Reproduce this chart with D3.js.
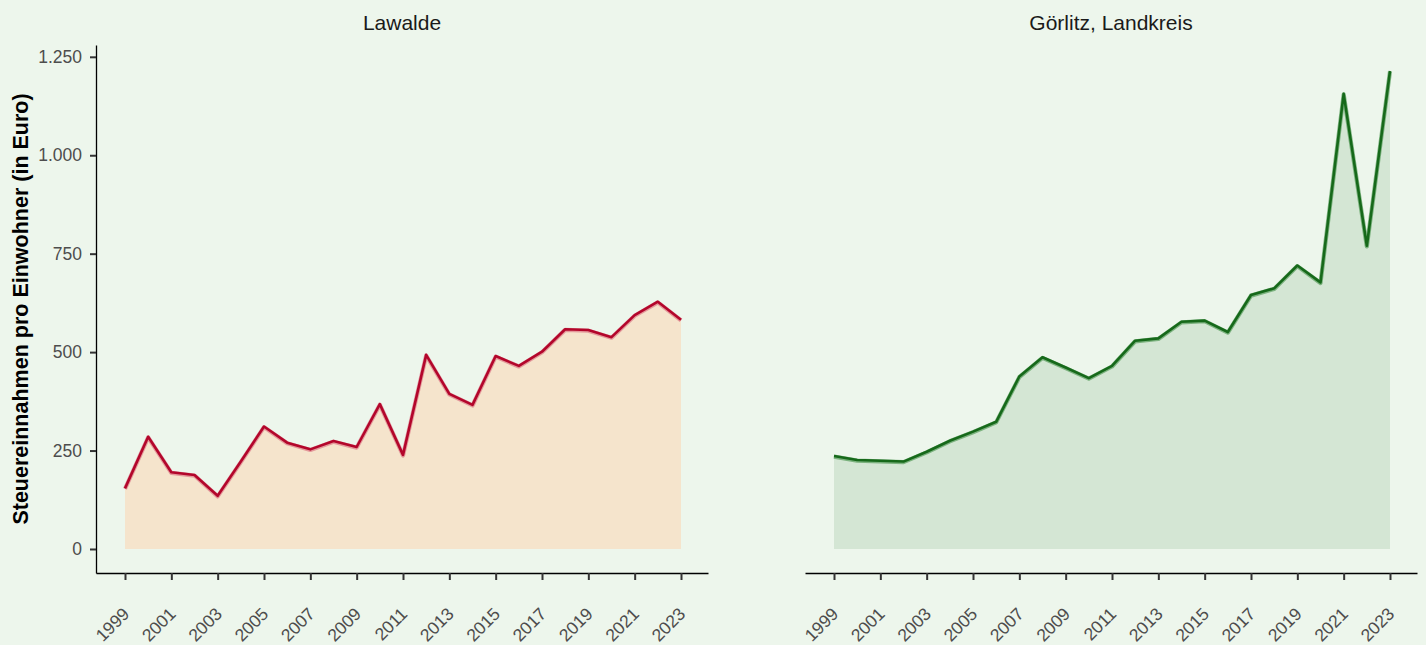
<!DOCTYPE html>
<html>
<head>
<meta charset="utf-8">
<script src="https://cdn.jsdelivr.net/npm/d3@7"></script>
<style>
  html, body { margin: 0; padding: 0; background: #edf6ec; }
  svg { display: block; font-family: "Liberation Sans", Arial, sans-serif; }
</style>
</head>
<body>
<svg id="chart"></svg>
<script>
const YEARS = d3.range(1999, 2024);
const TICK_YEARS = d3.range(1999, 2024, 2);
const Y_TICKS = [0, 250, 500, 750, 1000, 1250];

const LAWALDE = [154, 285, 195, 188, 135, 222, 311, 270, 253, 274, 259, 368, 239,
  493, 394, 366, 490, 465, 501, 558, 556, 538, 594, 628, 582];
const GOERLITZ = [236, 226, 224, 222, 247, 275, 298, 323, 438, 487, 461, 434, 465,
  529, 535, 577, 580, 551, 645, 662, 720, 677, 1156, 770, 1214];

const PANELS = [
  { title: "Lawalde", values: LAWALDE, fill: "#f5e4cc", halo: "#d9687a", stroke: "#b3062b", yAxis: true },
  { title: "Görlitz, Landkreis", values: GOERLITZ, fill: "#d4e6d4", halo: "#3f8f44", stroke: "#16691a", yAxis: false },
];

const WIDTH = 1426;
const HEIGHT = 645;
const PANEL_LEFT = [96, 805];
const PANEL_WIDTH = 612;
const PLOT_TOP = 45;
const PLOT_BOTTOM = 573;

const de = d3.formatLocale({ decimal: ",", thousands: ".", grouping: [3], currency: ["", " €"] });
const fmt = de.format(",d");

const svg = d3.select("#chart").attr("width", WIDTH).attr("height", HEIGHT);

svg.append("rect").attr("width", WIDTH).attr("height", HEIGHT).attr("fill", "#edf6ec");

const y = d3.scaleLinear().domain([-61, 1280]).range([PLOT_BOTTOM, PLOT_TOP]);

PANELS.forEach((p, i) => {
  const left = PANEL_LEFT[i];
  const x = d3.scaleLinear()
    .domain([1999 - 29 / 23.167, 2023 + 27 / 23.167])
    .range([left, left + PANEL_WIDTH]);

  const g = svg.append("g");
  const rows = YEARS.map((yr, k) => ({ year: yr, value: p.values[k] }));

  // area + line
  const area = d3.area().x((d) => x(d.year)).y0(y(0)).y1((d) => y(d.value));
  const line = d3.line().x((d) => x(d.year)).y((d) => y(d.value));

  g.append("path").datum(rows).attr("d", area).attr("fill", p.fill);
  g.append("path").datum(rows).attr("d", line)
    .attr("fill", "none").attr("stroke", p.halo).attr("stroke-width", 4.2)
    .attr("stroke-opacity", 0.6).attr("stroke-linejoin", "round")
    .attr("transform", "translate(0, 0.6)");
  g.append("path").datum(rows).attr("d", line)
    .attr("fill", "none").attr("stroke", p.stroke).attr("stroke-width", 2.6)
    .attr("stroke-linejoin", "round");

  // x axis
  const xAxis = d3.axisBottom(x).tickValues(TICK_YEARS).tickSize(7).tickSizeOuter(0).tickFormat(d3.format("d"));
  const xg = g.append("g").attr("transform", `translate(0, ${PLOT_BOTTOM})`).call(xAxis);
  xg.select(".domain").attr("stroke", "#000").attr("stroke-width", 1.3);
  xg.selectAll(".tick line").attr("stroke", "#333").attr("stroke-width", 2);
  xg.selectAll(".tick text")
    .attr("fill", "#4d4d4d").attr("font-size", 17.5)
    .attr("text-anchor", "end").attr("dy", 0).attr("y", 0)
    .attr("transform", "translate(5, 42) rotate(-45)");

  if (p.yAxis) {
    const yAxis = d3.axisLeft(y).tickValues(Y_TICKS).tickSize(6).tickPadding(8).tickSizeOuter(0).tickFormat(fmt);
    const yg = g.append("g").attr("transform", `translate(${left}, 0)`).call(yAxis);
    yg.select(".domain").attr("stroke", "#000").attr("stroke-width", 1.3);
    yg.selectAll(".tick line").attr("stroke", "#333").attr("stroke-width", 2);
    yg.selectAll(".tick text").attr("fill", "#4d4d4d").attr("font-size", 17.5);
  }

  // panel title
  svg.append("text")
    .attr("x", left + PANEL_WIDTH / 2).attr("y", 30)
    .attr("text-anchor", "middle").attr("font-size", 21).attr("fill", "#1a1a1a")
    .text(p.title);
});

svg.append("text")
  .attr("transform", `translate(28, ${(PLOT_TOP + PLOT_BOTTOM) / 2}) rotate(-90)`)
  .attr("text-anchor", "middle").attr("font-size", 21.5).attr("font-weight", "bold")
  .attr("fill", "#000")
  .text("Steuereinnahmen pro Einwohner (in Euro)");
</script>
</body>
</html>
